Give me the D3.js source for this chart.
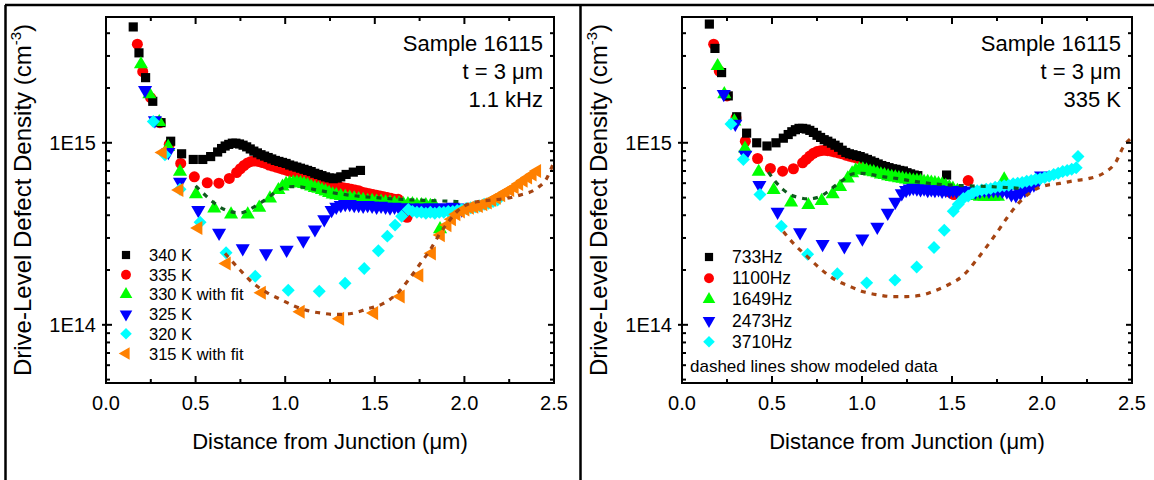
<!DOCTYPE html>
<html><head><meta charset="utf-8">
<script src="https://cdn.jsdelivr.net/npm/d3@7"></script>
<style>body{margin:0;background:#fff} svg{display:block} text{font-family:Arial,"Liberation Sans",sans-serif;fill:#000}</style>
</head><body><svg id="c" width="1154" height="480"></svg>
<script>
// ---------------- DATA ----------------
const xTicks = [0.0, 0.5, 1.0, 1.5, 2.0, 2.5];
const yTickLabels = ["1E14", "1E15"];
const leftNotes = ["Sample 16115", "t = 3 \u03bcm", "1.1 kHz"];
const rightNotes = ["Sample 16115", "t = 3 \u03bcm", "335 K"];
const leftNames = ["340 K", "335 K", "330 K with fit", "325 K", "320 K", "315 K with fit"];
const rightNames = ["733Hz", "1100Hz", "1649Hz", "2473Hz", "3710Hz"];
const rightNote = "dashed lines show modeled data";

const L340 = [[0.152,4.33e15],[0.184,3.12e15],[0.221,2.28e15],[0.261,1.69e15],[0.307,1.29e15],[0.361,1.02e15],[0.422,8.7e14],[0.487,8.1e14],[0.54,8.1e14],[0.584,8.4e14],[0.623,8.9e14],[0.645,9.3e14],[0.665,9.6e14],[0.685,9.8e14],[0.705,9.95e14],[0.725,9.95e14],[0.745,9.85e14],[0.765,9.7e14],[0.785,9.5e14],[0.805,9.25e14],[0.825,9.0e14],[0.845,8.8e14],[0.865,8.6e14],[0.885,8.45e14],[0.905,8.3e14],[0.925,8.15e14],[0.945,8.0e14],[0.965,7.9e14],[0.985,7.8e14],[1.005,7.7e14],[1.025,7.55e14],[1.045,7.45e14],[1.065,7.35e14],[1.085,7.25e14],[1.105,7.15e14],[1.125,7.05e14],[1.145,6.95e14],[1.165,6.8e14],[1.185,6.7e14],[1.205,6.6e14],[1.225,6.5e14],[1.245,6.42e14],[1.268,6.35e14],[1.29,6.4e14],[1.31,6.5e14],[1.34,6.7e14],[1.38,6.9e14],[1.42,7.05e14]];
const L335 = [[0.175,3.48e15],[0.205,2.46e15],[0.249,1.77e15],[0.301,1.29e15],[0.353,9.8e14],[0.417,7.7e14],[0.493,6.5e14],[0.565,6.03e14],[0.63,6.0e14],[0.688,6.37e14],[0.729,6.87e14],[0.75,7.2e14],[0.77,7.5e14],[0.79,7.75e14],[0.81,7.9e14],[0.83,7.95e14],[0.85,7.9e14],[0.87,7.8e14],[0.89,7.7e14],[0.91,7.55e14],[0.93,7.45e14],[0.95,7.35e14],[0.97,7.25e14],[0.99,7.15e14],[1.01,7.05e14],[1.03,6.95e14],[1.05,6.9e14],[1.07,6.8e14],[1.09,6.75e14],[1.11,6.65e14],[1.13,6.55e14],[1.15,6.45e14],[1.17,6.35e14],[1.19,6.25e14],[1.21,6.15e14],[1.23,6.05e14],[1.25,5.95e14],[1.27,5.85e14],[1.29,5.8e14],[1.31,5.7e14],[1.33,5.65e14],[1.35,5.6e14],[1.37,5.55e14],[1.39,5.5e14],[1.41,5.45e14],[1.43,5.35e14],[1.45,5.3e14],[1.47,5.25e14],[1.49,5.2e14],[1.51,5.15e14],[1.53,5.1e14],[1.55,5.05e14],[1.57,5.0e14],[1.59,4.95e14],[1.61,4.9e14],[1.63,4.9e14],[1.68,3.9e14]];
const L330 = [[0.195,2.7e15],[0.242,1.85e15],[0.297,1.3e15],[0.347,9.5e14],[0.413,6.93e14],[0.502,5.22e14],[0.604,4.36e14],[0.698,4.04e14],[0.791,4.04e14],[0.855,4.4e14],[0.915,4.95e14],[0.962,5.5e14],[0.985,5.75e14],[1.005,5.95e14],[1.025,6.0e14],[1.045,6.05e14],[1.065,6.05e14],[1.085,6.0e14],[1.105,5.95e14],[1.125,5.85e14],[1.145,5.75e14],[1.165,5.65e14],[1.185,5.6e14],[1.205,5.5e14],[1.225,5.4e14],[1.245,5.3e14],[1.265,5.2e14],[1.285,5.15e14],[1.31,5.1e14],[1.335,5.05e14],[1.36,5.0e14],[1.385,4.95e14],[1.41,4.9e14],[1.435,4.85e14],[1.46,4.8e14],[1.485,4.8e14],[1.51,4.75e14],[1.535,4.75e14],[1.56,4.7e14],[1.585,4.7e14],[1.61,4.65e14],[1.635,4.65e14],[1.66,4.6e14],[1.685,4.6e14],[1.71,4.6e14],[1.735,4.55e14],[1.76,4.55e14],[1.785,4.55e14],[1.81,4.5e14],[1.835,4.5e14],[1.864,3.35e14]];
const L330fit = [[0.5,5.8e14],[0.55,5.2e14],[0.6,4.7e14],[0.65,4.35e14],[0.7,4.17e14],[0.75,4.12e14],[0.8,4.3e14],[0.85,4.6e14],[0.9,4.95e14],[0.95,5.4e14],[1.0,5.7e14],[1.05,5.75e14],[1.1,5.7e14],[1.15,5.57e14],[1.2,5.45e14],[1.3,5.25e14],[1.4,5.1e14],[1.5,5.0e14],[1.6,4.92e14],[1.7,4.86e14],[1.8,4.82e14],[1.9,4.78e14],[2.0,4.74e14]];
const L325 = [[0.218,1.95e15],[0.273,1.33e15],[0.348,8.9e14],[0.413,6.1e14],[0.515,4.27e14],[0.631,3.2e14],[0.763,2.63e14],[0.893,2.47e14],[1.008,2.58e14],[1.101,2.9e14],[1.166,3.34e14],[1.218,3.8e14],[1.259,4.27e14],[1.285,4.45e14],[1.31,4.55e14],[1.335,4.6e14],[1.36,4.6e14],[1.385,4.55e14],[1.41,4.55e14],[1.435,4.5e14],[1.46,4.55e14],[1.485,4.5e14],[1.51,4.45e14],[1.535,4.5e14],[1.56,4.45e14],[1.585,4.4e14],[1.61,4.45e14],[1.635,4.4e14],[1.66,4.4e14],[1.685,4.35e14],[1.71,4.4e14],[1.735,4.35e14],[1.76,4.4e14],[1.785,4.35e14],[1.81,4.4e14],[1.835,4.4e14],[1.86,4.35e14],[1.885,4.4e14],[1.91,4.4e14],[1.935,4.45e14],[1.96,4.4e14],[1.985,4.3e14]];
const L320 = [[0.264,1.31e15],[0.329,8.6e14],[0.413,5.56e14],[0.525,3.66e14],[0.67,2.49e14],[0.833,1.85e14],[1.017,1.55e14],[1.19,1.53e14],[1.334,1.69e14],[1.441,2.04e14],[1.52,2.55e14],[1.57,3.07e14],[1.613,3.53e14],[1.65,3.95e14],[1.687,4.3e14],[1.71,4.2e14],[1.735,4.15e14],[1.76,4.15e14],[1.785,4.1e14],[1.81,4.15e14],[1.835,4.1e14],[1.86,4.15e14],[1.885,4.15e14],[1.91,4.2e14],[1.935,4.2e14],[1.96,4.25e14],[1.985,4.3e14],[2.01,4.35e14],[2.035,4.4e14],[2.06,4.45e14],[2.085,4.5e14],[2.11,4.6e14],[2.135,4.65e14],[2.16,4.75e14],[2.185,4.85e14]];
const L315 = [[0.316,8.85e14],[0.409,5.5e14],[0.515,3.4e14],[0.673,2.17e14],[0.869,1.5e14],[1.086,1.18e14],[1.306,1.08e14],[1.496,1.16e14],[1.644,1.43e14],[1.748,1.87e14],[1.818,2.47e14],[1.868,3.11e14],[1.905,3.53e14],[1.93,3.8e14],[1.955,4.05e14],[1.98,4.2e14],[2.005,4.3e14],[2.03,4.4e14],[2.055,4.45e14],[2.08,4.5e14],[2.105,4.6e14],[2.13,4.7e14],[2.155,4.85e14],[2.18,5.0e14],[2.205,5.15e14],[2.23,5.35e14],[2.255,5.5e14],[2.28,5.7e14],[2.305,5.95e14],[2.33,6.2e14],[2.355,6.45e14],[2.38,6.7e14],[2.405,7.0e14]];
const L315fit = [[0.664,2.47e14],[0.748,2.0e14],[0.822,1.69e14],[0.9,1.5e14],[0.98,1.37e14],[1.05,1.27e14],[1.12,1.2e14],[1.2,1.16e14],[1.28,1.14e14],[1.36,1.15e14],[1.455,1.22e14],[1.548,1.31e14],[1.622,1.48e14],[1.687,1.76e14],[1.748,2.13e14],[1.808,2.57e14],[1.864,3.18e14],[1.911,3.68e14],[1.957,4.18e14],[2.031,4.65e14],[2.143,4.84e14],[2.236,4.95e14],[2.31,5.16e14],[2.403,5.61e14],[2.459,6.37e14],[2.5,7.9e14]];

const R733 = [[0.152,4.49e15],[0.183,3.3e15],[0.22,2.43e15],[0.257,1.81e15],[0.304,1.39e15],[0.359,1.13e15],[0.415,1.0e15],[0.472,9.6e14],[0.522,1.0e15],[0.563,1.06e15],[0.59,1.11e15],[0.61,1.15e15],[0.63,1.18e15],[0.65,1.2e15],[0.67,1.2e15],[0.69,1.19e15],[0.71,1.17e15],[0.73,1.14e15],[0.75,1.1e15],[0.77,1.07e15],[0.79,1.04e15],[0.81,1.02e15],[0.83,9.95e14],[0.85,9.7e14],[0.87,9.45e14],[0.89,9.1e14],[0.91,8.85e14],[0.93,8.7e14],[0.95,8.6e14],[0.97,8.5e14],[0.99,8.4e14],[1.01,8.25e14],[1.03,8.1e14],[1.05,7.95e14],[1.07,7.8e14],[1.09,7.65e14],[1.11,7.5e14],[1.13,7.4e14],[1.15,7.3e14],[1.17,7.2e14],[1.19,7.15e14],[1.21,7.05e14],[1.23,7.0e14],[1.25,6.85e14],[1.27,6.75e14],[1.29,6.65e14],[1.31,6.6e14],[1.47,6.65e14]];
const R1100 = [[0.176,3.48e15],[0.207,2.48e15],[0.25,1.81e15],[0.3,1.37e15],[0.352,1.02e15],[0.42,8.2e14],[0.491,7.23e14],[0.559,6.98e14],[0.619,7.2e14],[0.67,7.76e14],[0.69,8.1e14],[0.71,8.45e14],[0.73,8.75e14],[0.75,8.95e14],[0.77,9.05e14],[0.79,9.1e14],[0.81,9.05e14],[0.83,9.0e14],[0.85,8.9e14],[0.87,8.8e14],[0.89,8.7e14],[0.91,8.55e14],[0.93,8.45e14],[0.95,8.35e14],[0.97,8.25e14],[0.99,8.15e14],[1.01,8.05e14],[1.03,7.9e14],[1.05,7.75e14],[1.07,7.6e14],[1.09,7.5e14],[1.11,7.35e14],[1.13,7.2e14],[1.15,7.05e14],[1.17,6.95e14],[1.19,6.8e14],[1.21,6.65e14],[1.23,6.5e14],[1.25,6.35e14],[1.27,6.25e14],[1.29,6.15e14],[1.31,6.05e14],[1.33,6.0e14],[1.35,5.95e14],[1.37,5.9e14],[1.39,5.85e14],[1.41,5.8e14],[1.43,5.7e14],[1.45,5.6e14],[1.47,5.5e14],[1.49,5.35e14],[1.51,5.2e14],[1.59,6.2e14]];
const R1649 = [[0.198,2.64e15],[0.235,1.85e15],[0.291,1.31e15],[0.35,9.3e14],[0.426,6.93e14],[0.509,5.5e14],[0.606,4.7e14],[0.702,4.55e14],[0.776,4.79e14],[0.837,5.22e14],[0.878,5.73e14],[0.921,6.37e14],[0.945,6.8e14],[0.965,7.05e14],[0.985,7.15e14],[1.005,7.15e14],[1.025,7.05e14],[1.045,6.95e14],[1.065,6.9e14],[1.085,6.8e14],[1.105,6.7e14],[1.125,6.65e14],[1.145,6.55e14],[1.165,6.5e14],[1.185,6.45e14],[1.205,6.4e14],[1.225,6.35e14],[1.245,6.3e14],[1.265,6.25e14],[1.285,6.2e14],[1.305,6.2e14],[1.325,6.15e14],[1.345,6.1e14],[1.365,6.1e14],[1.385,6.05e14],[1.405,6.0e14],[1.425,5.95e14],[1.445,5.9e14],[1.465,5.8e14],[1.485,5.7e14],[1.505,5.6e14],[1.53,5.45e14],[1.555,5.35e14],[1.58,5.25e14],[1.605,5.15e14],[1.63,5.1e14],[1.655,5.05e14],[1.68,5.05e14],[1.705,5.05e14],[1.73,5.05e14],[1.755,5.05e14],[1.79,6.3e14]];
const R1649fit = [[0.48,6.9e14],[0.52,6.1e14],[0.56,5.55e14],[0.6,5.2e14],[0.65,5.0e14],[0.7,4.92e14],[0.75,5.0e14],[0.8,5.3e14],[0.85,5.8e14],[0.9,6.3e14],[0.95,6.75e14],[1.0,6.8e14],[1.05,6.7e14],[1.1,6.55e14],[1.15,6.45e14],[1.2,6.35e14],[1.3,6.12e14],[1.4,5.95e14],[1.5,5.85e14],[1.6,5.8e14],[1.7,5.75e14],[1.8,5.68e14],[1.9,5.6e14]];
const R2473 = [[0.232,1.85e15],[0.296,1.27e15],[0.352,8.6e14],[0.43,5.86e14],[0.531,4.18e14],[0.656,3.22e14],[0.781,2.78e14],[0.902,2.7e14],[1.002,2.98e14],[1.085,3.45e14],[1.143,4.12e14],[1.185,4.74e14],[1.221,5.27e14],[1.245,5.5e14],[1.265,5.6e14],[1.285,5.65e14],[1.305,5.6e14],[1.325,5.55e14],[1.345,5.6e14],[1.365,5.5e14],[1.385,5.55e14],[1.405,5.5e14],[1.425,5.55e14],[1.445,5.45e14],[1.465,5.5e14],[1.485,5.45e14],[1.505,5.5e14],[1.525,5.45e14],[1.545,5.5e14],[1.565,5.45e14],[1.585,5.4e14],[1.605,5.45e14],[1.63,5.4e14],[1.655,5.45e14],[1.68,5.5e14],[1.705,5.45e14],[1.73,5.5e14],[1.755,5.5e14],[1.78,5.45e14],[1.805,5.4e14],[1.83,5.2e14],[1.855,5.15e14],[1.88,5.3e14],[1.905,5.5e14],[1.93,5.7e14],[1.955,5.9e14],[1.98,6.2e14],[1.995,6.6e14]];
const R3710 = [[0.272,1.27e15],[0.341,8.1e14],[0.433,5.2e14],[0.552,3.48e14],[0.698,2.44e14],[0.863,1.91e14],[1.026,1.7e14],[1.183,1.76e14],[1.304,2.08e14],[1.4,2.66e14],[1.457,3.31e14],[1.507,4.21e14],[1.535,4.6e14],[1.563,4.95e14],[1.59,5.1e14],[1.615,5.3e14],[1.64,5.45e14],[1.665,5.5e14],[1.69,5.55e14],[1.715,5.6e14],[1.74,5.7e14],[1.765,5.75e14],[1.79,5.8e14],[1.815,5.85e14],[1.84,5.95e14],[1.865,6.0e14],[1.89,6.05e14],[1.915,6.15e14],[1.94,6.2e14],[1.965,6.3e14],[1.99,6.35e14],[2.015,6.45e14],[2.04,6.55e14],[2.065,6.7e14],[2.09,6.8e14],[2.115,6.95e14],[2.14,7.05e14],[2.165,7.15e14],[2.19,7.3e14],[2.2,8.4e14]];
const R3710fit = [[0.563,3.25e14],[0.619,2.8e14],[0.69,2.4e14],[0.767,2.04e14],[0.85,1.77e14],[0.93,1.63e14],[1.007,1.52e14],[1.091,1.46e14],[1.165,1.43e14],[1.248,1.43e14],[1.322,1.45e14],[1.406,1.54e14],[1.485,1.67e14],[1.563,1.87e14],[1.633,2.25e14],[1.693,2.69e14],[1.748,3.2e14],[1.804,3.85e14],[1.865,4.6e14],[1.933,5.31e14],[2.007,5.78e14],[2.1,5.98e14],[2.174,6.18e14],[2.257,6.35e14],[2.341,6.8e14],[2.411,7.86e14],[2.452,9.5e14],[2.49,1.05e15]];

// ---------------- DRAWING ----------------
const svg = d3.select('#c');
svg.append('rect').attr('width',1154).attr('height',480).attr('fill','#fff');

const frame = svg.append('g').attr('stroke','#000').attr('stroke-width',2.5);
frame.append('line').attr('x1',5).attr('x2',1154).attr('y1',5).attr('y2',5);
frame.append('line').attr('x1',5.5).attr('x2',5.5).attr('y1',5).attr('y2',480);
frame.append('line').attr('x1',580.5).attr('x2',580.5).attr('y1',5).attr('y2',480);

const COL = {black:'#000000', red:'#ff0000', green:'#00ff00', blue:'#0000ff', cyan:'#00ffff', orange:'#ff8000', fitG:'#0f5a1e', fitB:'#a54412'};

function markerPath(type, size){
  if(type==='square') return {d:d3.symbol(d3.symbolSquare, size)(), rot:0};
  if(type==='circle') return {d:d3.symbol(d3.symbolCircle, size)(), rot:0};
  if(type==='up') return {d:d3.symbol(d3.symbolTriangle, size)(), rot:0};
  if(type==='down') return {d:d3.symbol(d3.symbolTriangle, size)(), rot:180};
  if(type==='left') return {d:d3.symbol(d3.symbolTriangle, size)(), rot:-90};
  if(type==='diamond') return {d:d3.symbol(d3.symbolSquare, size)(), rot:45};
}
const SIZES = {square:84, circle:96, up:86, down:86, left:86, diamond:84};

function panel(cfg){
  const x0 = cfg.x0, x1 = cfg.x1, yT = 17, yB = 383;
  const x = d3.scaleLinear().domain([0,2.5]).range([x0,x1]);
  const y = d3.scaleLog().domain([4.79e13, 4.91e15]).range([yB, yT]);
  const g = svg.append('g');
  const clipId = 'clip'+cfg.id;
  svg.append('clipPath').attr('id',clipId).append('rect').attr('x',x0).attr('y',yT).attr('width',x1-x0).attr('height',yB-yT);
  const plot = g.append('g').attr('clip-path',`url(#${clipId})`);

  cfg.drawOrder.forEach(i=>{
    const s = cfg.series[i];
    const m = markerPath(s.type, SIZES[s.type]);
    plot.append('g').selectAll('path').data(s.data).enter().append('path')
      .attr('d', m.d)
      .attr('transform', d=>`translate(${x(d[0])},${y(d[1])}) rotate(${m.rot})`)
      .attr('fill', s.color);
  });
  cfg.fits.forEach(f=>{
    plot.append('path').datum(f.data)
      .attr('d', d3.line().x(d=>x(d[0])).y(d=>y(d[1])).curve(d3.curveMonotoneX))
      .attr('fill','none').attr('stroke', f.color).attr('stroke-width',3.2)
      .attr('stroke-dasharray','5,6');
  });

  const ax = g.append('g').attr('stroke','#000').attr('stroke-width',2);
  ax.append('rect').attr('x',x0).attr('y',yT).attr('width',x1-x0).attr('height',yB-yT).attr('fill','none');
  const minorX = d3.range(0.25, 2.5, 0.5);
  xTicks.forEach(t=>{
    ax.append('line').attr('x1',x(t)).attr('x2',x(t)).attr('y1',yB).attr('y2',yB-7);
    ax.append('line').attr('x1',x(t)).attr('x2',x(t)).attr('y1',yT).attr('y2',yT+7);
  });
  minorX.forEach(t=>{
    ax.append('line').attr('x1',x(t)).attr('x2',x(t)).attr('y1',yB).attr('y2',yB-4);
    ax.append('line').attr('x1',x(t)).attr('x2',x(t)).attr('y1',yT).attr('y2',yT+4);
  });
  const majorY = [1e14, 1e15];
  const minorY = [];
  [1e13,1e14,1e15].forEach(dec=>{ for(let k=2;k<=9;k++){ const v=k*dec; if(v>=4.79e13 && v<=4.91e15) minorY.push(v);} });
  majorY.forEach(v=>{
    ax.append('line').attr('x1',x0-4).attr('x2',x0+6).attr('y1',y(v)).attr('y2',y(v));
    ax.append('line').attr('x1',x1-6).attr('x2',x1).attr('y1',y(v)).attr('y2',y(v));
  });
  minorY.forEach(v=>{
    ax.append('line').attr('x1',x0).attr('x2',x0+4).attr('y1',y(v)).attr('y2',y(v));
    ax.append('line').attr('x1',x1-4).attr('x2',x1).attr('y1',y(v)).attr('y2',y(v));
  });

  g.selectAll('.xl').data(xTicks).enter().append('text')
    .attr('x', d=>x(d)).attr('y', 410).attr('text-anchor','middle')
    .attr('font-size',20).text(d=>d.toFixed(1));
  g.selectAll('.yl').data(majorY).enter().append('text')
    .attr('x', x0-10).attr('y', d=>y(d)+7).attr('text-anchor','end')
    .attr('font-size',20).text((d,i)=>yTickLabels[i]);

  g.append('text').attr('x',(x0+x1)/2).attr('y',449).attr('text-anchor','middle')
    .attr('font-size',22).text('Distance from Junction (\u03bcm)');
  const yt = g.append('text').attr('transform',`translate(${cfg.yTitleX},${(yT+yB)/2}) rotate(-90)`)
    .attr('text-anchor','middle').attr('font-size',24);
  yt.append('tspan').text('Drive-Level Defect Density (cm');
  yt.append('tspan').attr('font-size',15).attr('dy',-10).text('-3');
  yt.append('tspan').attr('dy',10).text(')');

  cfg.notes.forEach((t,i)=>{
    g.append('text').attr('x', cfg.noteX).attr('y', 51 + i*28).attr('text-anchor','end')
      .attr('font-size',22).text(t);
  });

  cfg.series.forEach((s,i)=>{
    const ly = cfg.legY + i*cfg.legDy;
    const m = markerPath(s.type, SIZES[s.type]*0.8);
    g.append('path').attr('d', m.d).attr('transform',`translate(${cfg.legX},${ly}) rotate(${m.rot})`).attr('fill', s.color);
    g.append('text').attr('x', cfg.legX+23).attr('y', ly+6).attr('font-size',cfg.legFont).text(cfg.names[i]);
  });
  if(cfg.extra){
    g.append('text').attr('x', x0+8).attr('y', 372).attr('font-size',17).text(cfg.extra);
  }
}

panel({id:'L', x0:106, x1:554, yTitleX:31, noteX:543, notes:leftNotes, names:leftNames,
  legX:126, legY:255, legDy:19.7, legFont:16.5,
  series:[
    {data:L340, type:'square', color:COL.black},
    {data:L335, type:'circle', color:COL.red},
    {data:L330, type:'up', color:COL.green},
    {data:L325, type:'down', color:COL.blue},
    {data:L320, type:'diamond', color:COL.cyan},
    {data:L315, type:'left', color:COL.orange}
  ],
  drawOrder:[1,0,2,3,4,5],
  fits:[{data:L330fit, color:COL.fitG},{data:L315fit, color:COL.fitB}]
});

panel({id:'R', x0:682, x1:1132, yTitleX:607, noteX:1121, notes:rightNotes, names:rightNames,
  legX:709, legY:257, legDy:21.2, legFont:17.5, extra:rightNote,
  series:[
    {data:R733, type:'square', color:COL.black},
    {data:R1100, type:'circle', color:COL.red},
    {data:R1649, type:'up', color:COL.green},
    {data:R2473, type:'down', color:COL.blue},
    {data:R3710, type:'diamond', color:COL.cyan}
  ],
  drawOrder:[1,0,2,3,4],
  fits:[{data:R1649fit, color:COL.fitG},{data:R3710fit, color:COL.fitB}]
});
</script>
</body></html>
